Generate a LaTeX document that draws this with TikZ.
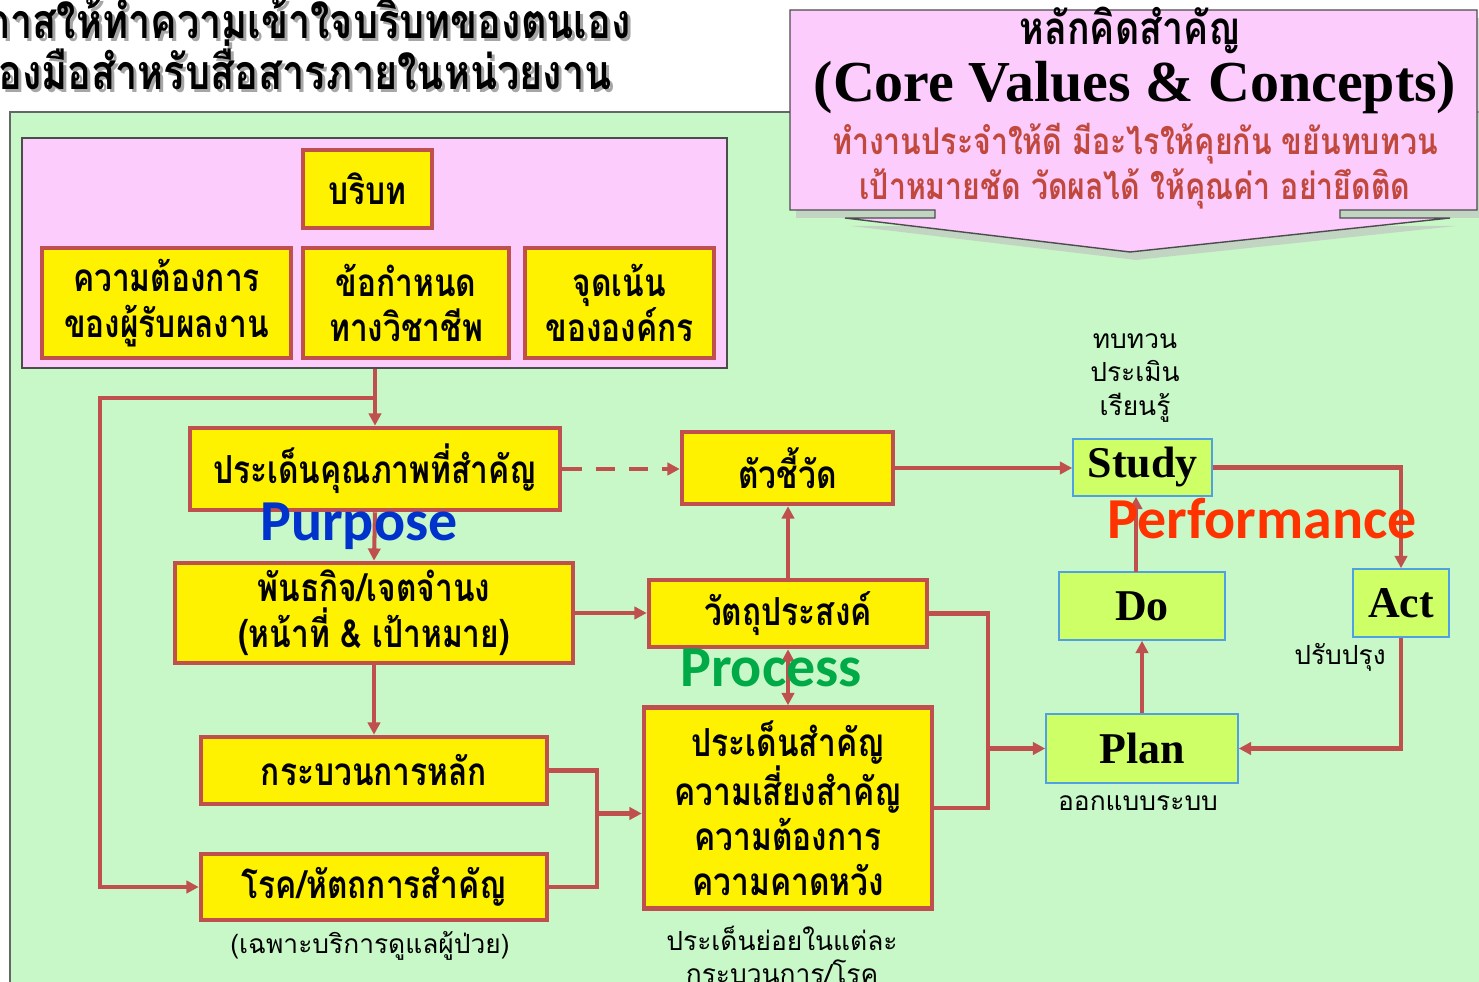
\documentclass[tikz,border=0pt]{standalone}
\usepackage{fontspec}
\usetikzlibrary{arrows.meta,calc}
\newfontfamily\thai[Script=Thai]{Loma}
\newfontfamily\thaic[Script=Thai,FakeStretch=0.82]{Loma}
\newfontfamily\tnr{Liberation Serif}
\newfontfamily\calib{Carlito}
\definecolor{bggreen}{RGB}{200,248,200}
\definecolor{pinkbg}{RGB}{252,204,252}
\definecolor{boxred}{RGB}{192,80,77}
\definecolor{pdcafill}{RGB}{206,255,102}
\definecolor{pdcablue}{RGB}{80,160,230}
\definecolor{corered}{RGB}{192,72,60}
\definecolor{perfred}{RGB}{255,51,0}
\definecolor{purpblue}{RGB}{0,51,204}
\definecolor{procgreen}{RGB}{0,170,70}
\begin{document}
\begin{tikzpicture}[x=0.02cm,y=-0.02cm,
  ybox/.style={draw=boxred, line width=2.6pt, fill=yellow, align=center, inner sep=0pt,
    font=\thaic\bfseries\fontsize{22}{26}\selectfont},
  gbox/.style={draw=pdcablue, line width=0.9pt, fill=pdcafill, inner sep=0pt,
    font=\tnr\bfseries\fontsize{25}{28}\selectfont},
  conn/.style={draw=boxred, line width=2.3pt},
  arr/.style={conn, -{Triangle[length=7pt,width=7pt]}},
  lbl/.style={font=\thai\fontsize{15}{19}\selectfont, align=center, inner sep=0pt},
  big/.style={font=\calib\bfseries\fontsize{33}{36}\selectfont, inner sep=0pt, anchor=base},
  ttl/.style={anchor=west, inner sep=0pt, font=\thaic\bfseries\fontsize{27.5}{32}\selectfont}
]
\useasboundingbox (0,0) rectangle (1479,982);
\clip (0,0) rectangle (1479,982);
\fill[white] (0,0) rectangle (1479,982);

% title (cut off at left)
\node[ttl, text=black!35] (t1s) at (-11,21) {กาสให้ทำความเข้าใจบริบทของตนเอง};
\node[ttl, text=black!35] (t2s) at (1,68) {องมือสำหรับสื่อสารภายในหน่วยงาน};
\node[ttl] (t1) at (-14,18) {กาสให้ทำความเข้าใจบริบทของตนเอง};
\node[ttl] (t2) at (-2,65) {องมือสำหรับสื่อสารภายในหน่วยงาน};

% green panel
\draw[fill=bggreen, draw=black!60, line width=0.8pt] (10,112) rectangle (1500,1000);

% core values callout
\fill[black!25, opacity=0.6] (796,18) -- (1485,18) -- (1485,218) -- (1346,218) -- (1346,226) -- (1456,226) -- (1136,260) -- (851,226) -- (941,226) -- (941,218) -- (796,218) -- cycle;
\draw[fill=pinkbg, draw=black!70, line width=0.8pt] (790,10) -- (1477,10) -- (1477,210) -- (1340,210) -- (1340,218) -- (1450,218) -- (1130,252) -- (845,218) -- (935,218) -- (935,210) -- (790,210) -- cycle;
\node[inner sep=0pt, font=\thaic\bfseries\fontsize{26}{30}\selectfont] (cv1) at (1130,30) {หลักคิดสำคัญ};
\node[inner sep=0pt, font=\tnr\bfseries\fontsize{33}{36}\selectfont] (cv2) at (1135,88) {(Core Values \& Concepts)};
\node[inner sep=0pt, text=corered, font=\thaic\bfseries\fontsize{21}{25}\selectfont] (cv3) at (1135,144) {ทำงานประจำให้ดี มีอะไรให้คุยกัน ขยันทบทวน};
\node[inner sep=0pt, text=corered, font=\thaic\bfseries\fontsize{21}{25}\selectfont] (cv4) at (1135,189) {เป้าหมายชัด วัดผลได้ ให้คุณค่า อย่ายึดติด};

% context container
\node[draw=black!70, line width=0.8pt, fill=pinkbg, minimum width=14.1cm, minimum height=4.6cm, inner sep=0pt] (ctxbox) at (374.5,253) {};
\node[ybox, minimum width=2.58cm, minimum height=1.56cm] (ctx) at (367.5,189) {บริบท};
\node[ybox, minimum width=4.98cm, minimum height=2.2cm] (need) at (166.5,303) {ความต้องการ\\ของผู้รับผลงาน};
\node[ybox, minimum width=4.12cm, minimum height=2.2cm] (prof) at (406,303) {ข้อกำหนด\\ทางวิชาชีพ};
\node[ybox, minimum width=3.78cm, minimum height=2.2cm] (focus) at (619.5,303) {จุดเน้น\\ขององค์กร};

% main boxes
\node[ybox, minimum width=7.4cm, minimum height=1.64cm] (qual) at (375,469) {ประเด็นคุณภาพที่สำคัญ};
\node[ybox, minimum width=4.22cm, minimum height=1.44cm] (indic) at (787.5,468) {ตัวชี้วัด};
\node[ybox, minimum width=7.96cm, minimum height=2.0cm] (mission) at (374,613) {พันธกิจ/เจตจำนง\\(หน้าที่ \& เป้าหมาย)};
\node[ybox, minimum width=5.56cm, minimum height=1.34cm] (obj) at (788,613.5) {วัตถุประสงค์};
\node[ybox, minimum width=6.92cm, minimum height=1.34cm] (core) at (374,770.5) {กระบวนการหลัก};
\node[ybox, minimum width=6.92cm, minimum height=1.32cm] (dis) at (374,887) {โรค/หัตถการสำคัญ};
\node[ybox, minimum width=5.76cm, minimum height=4.02cm, font=\thaic\bfseries\fontsize{22}{25.6}\selectfont] (iss) at (788,808) {ประเด็นสำคัญ\\ความเสี่ยงสำคัญ\\ความต้องการ\\ความคาดหวัง};

% PDCA boxes
\node[gbox, minimum width=2.78cm, minimum height=1.14cm] (study) at (1142.5,467.5) {Study};
\node[gbox, minimum width=3.32cm, minimum height=1.36cm] (do) at (1142,606) {Do};
\node[gbox, minimum width=1.92cm, minimum height=1.36cm] (act) at (1401,603) {Act};
\node[gbox, minimum width=3.84cm, minimum height=1.38cm] (plan) at (1142,748.5) {Plan};

% labels
\node[lbl] (lstudy) at (1135,378) {ทบทวน\\ประเมิน\\เรียนรู้};
\node[lbl] (lact) at (1340,657) {ปรับปรุง};
\node[lbl] (lplan) at (1138,803) {ออกแบบระบบ};
\node[lbl] (ldis) at (370,946) {(เฉพาะบริการดูแลผู้ป่วย)};
\node[lbl] (liss) at (782,955) {ประเด็นย่อยในแต่ละ\\กระบวนการ/โรค};

% connectors
\coordinate (j1) at (375,398);
\coordinate (lft) at (100,398);
\draw[arr] (ctxbox.south -| qual.north) -- (qual.north);
\draw[arr] (j1) -- (lft) |- (dis.west);
\draw[arr, dash pattern=on 11pt off 8pt] (qual.east) -- (qual.east -| indic.west);
\draw[arr] (qual.south) -- (mission.north);
\draw[arr] (mission.east) -- (mission.east -| obj.west);
\draw[arr] (mission.south) -- (mission.south -| core.north) -- (core.north);
\draw[arr] (obj.north) -- (obj.north |- indic.south);
\draw[conn, {Triangle[length=7pt,width=7pt]}-{Triangle[length=7pt,width=7pt]}] (obj.south) -- (iss.north);
\coordinate (m1) at (597,813.5);
\draw[conn] (core.east) -| (m1);
\draw[conn] (dis.east) -| (m1);
\draw[arr] (m1) -- (m1 -| iss.west);
\draw[arr] (indic.east) -- (indic.east -| study.west);
\coordinate (m2) at (988,748.5);
\draw[conn] (obj.east) -| (m2);
\draw[conn] (iss.east) -| (m2);
\draw[arr] (m2) -- (plan.west);
\draw[arr] (plan.north) -- (do.south);
\coordinate (dtop) at (1136,572);
\draw[arr] (dtop) -- (dtop |- study.south);
\draw[arr] (study.east) -| (act.north);
\draw[arr] (act.south) |- (plan.east);

% big words
\node[big, text=purpblue] (purpose) at (359,540) {Purpose};
\node[big, text=procgreen] (process) at (771,686) {Process};
\node[big, text=perfred] (perf) at (1262,538) {Performance};
\end{tikzpicture}
\end{document}
